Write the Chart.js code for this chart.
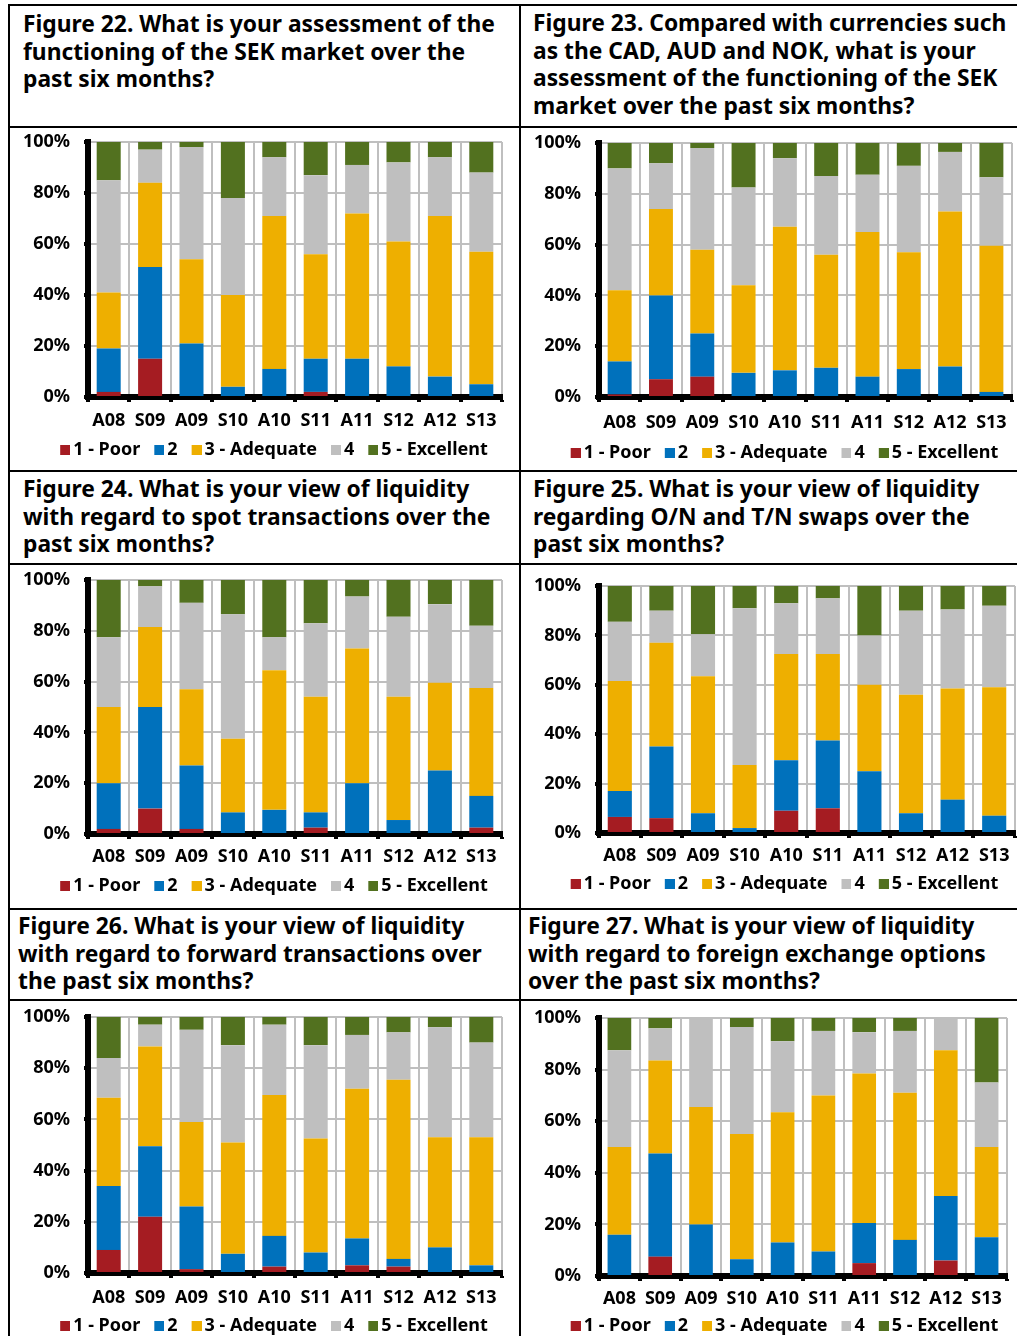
<!DOCTYPE html>
<html>
<head>
<meta charset="utf-8">
<script src="https://cdn.jsdelivr.net/npm/chart.js@4.4.1/dist/chart.umd.min.js"></script>
<style>
  html, body { margin: 0; padding: 0; background: #fff; overflow: hidden; width: 1017px; height: 1336px; }
  .rule { position: absolute; background: #000; }
  .title { position: absolute; font-family: "Noto Sans", sans-serif; font-weight: 700; font-size: 22.8px;
           line-height: 27.5px; white-space: nowrap; color: #000; }
  .box { position: absolute; }
</style>
</head>
<body>
<script>
// Survey periods on the x axis
const categories = ['A08', 'S09', 'A09', 'S10', 'A10', 'S11', 'A11', 'S12', 'A12', 'S13'];
// Answer scale (legend entries) and their colours
const seriesNames = ['1 - Poor', '2', '3 - Adequate', '4', '5 - Excellent'];
const seriesColors = ['#A51C22', '#0071BC', '#EEAF00', '#BFBFBF', '#52711F'];
// Percent axis
const yTickStep = 20;
const yMax = 100;

// Figure 22: functioning of the SEK market
const fig22Poor      = [2, 15, 0, 0, 0, 2, 0, 0, 0, 0];
const fig22Two       = [17, 36, 21, 4, 11, 13, 15, 12, 8, 5];
const fig22Adequate  = [22, 33, 33, 36, 60, 41, 57, 49, 63, 52];
const fig22Four      = [44, 13, 44, 38, 23, 31, 19, 31, 23, 31];
const fig22Excellent = [15, 3, 2, 22, 6, 13, 9, 8, 6, 12];

// Figure 23: SEK compared with CAD, AUD and NOK
const fig23Poor      = [1, 7, 8, 0, 0, 0, 0, 0, 0, 0];
const fig23Two       = [13, 33, 17, 9.5, 10.5, 11.5, 8, 11, 12, 2];
const fig23Adequate  = [28, 34, 33, 34.5, 56.5, 44.5, 57, 46, 61, 57.5];
const fig23Four      = [48, 18, 40, 38.5, 27, 31, 22.5, 34, 23.5, 27];
const fig23Excellent = [10, 8, 2, 17.5, 6, 13, 12.5, 9, 3.5, 13.5];

// Figure 24: liquidity, spot transactions
const fig24Poor      = [2, 10, 2, 0, 0, 2.5, 0, 0, 0, 2.5];
const fig24Two       = [18, 40, 25, 8.5, 9.5, 6, 20, 5.5, 25, 12.5];
const fig24Adequate  = [30, 31.5, 30, 29, 55, 45.5, 53, 48.5, 34.5, 42.5];
const fig24Four      = [27.5, 16, 34, 49, 13, 29, 20.5, 31.5, 31, 24.5];
const fig24Excellent = [22.5, 2.5, 9, 13.5, 22.5, 17, 6.5, 14.5, 9.5, 18];

// Figure 25: liquidity, O/N and T/N swaps
const fig25Poor      = [6.5, 6, 0, 0, 9, 10, 0, 0, 0, 0];
const fig25Two       = [10.5, 29, 8, 2, 20.5, 27.5, 25, 8, 13.5, 7];
const fig25Adequate  = [44.5, 42, 55.5, 25.5, 43, 35, 35, 48, 45, 52];
const fig25Four      = [24, 13, 17, 63.5, 20.5, 22.5, 20, 34, 32, 33];
const fig25Excellent = [14.5, 10, 19.5, 9, 7, 5, 20, 10, 9.5, 8];

// Figure 26: liquidity, forward transactions
const fig26Poor      = [9, 22, 1.5, 0, 2.5, 0, 3, 2.5, 0, 0];
const fig26Two       = [25, 27.5, 24.5, 7.5, 12, 8, 10.5, 3, 10, 3];
const fig26Adequate  = [34.5, 39, 33, 43.5, 55, 44.5, 58.5, 70, 43, 50];
const fig26Four      = [15.5, 8.5, 36, 38, 27.5, 36.5, 21, 18.5, 43, 37];
const fig26Excellent = [16, 3, 5, 11, 3, 11, 7, 6, 4, 10];

// Figure 27: liquidity, foreign exchange options
const fig27Poor      = [0, 7.5, 0, 0, 0, 0, 5, 0, 6, 0];
const fig27Two       = [16, 40, 20, 6.5, 13, 9.5, 15.5, 14, 25, 15];
const fig27Adequate  = [34, 36, 45.5, 48.5, 50.5, 60.5, 58, 57, 56.5, 35];
const fig27Four      = [37.5, 12.5, 34.5, 41.5, 27.5, 25, 16, 24, 12.5, 25];
const fig27Excellent = [12.5, 4, 0, 3.5, 9, 5, 5.5, 5, 0, 25];

const titles = [
  ['Figure 22. What is your assessment of the', 'functioning of the SEK market over the', 'past six months?'],
  ['Figure 23. Compared with currencies such', 'as the CAD, AUD and NOK, what is your', 'assessment of the functioning of the SEK', 'market over the past six months?'],
  ['Figure 24. What is your view of liquidity', 'with regard to spot transactions over the', 'past six months?'],
  ['Figure 25. What is your view of liquidity', 'regarding O/N and T/N swaps over the', 'past six months?'],
  ['Figure 26. What is your view of liquidity', 'with regard to forward transactions over', 'the past six months?'],
  ['Figure 27. What is your view of liquidity', 'with regard to foreign exchange options', 'over the past six months?']
];

const figureSeries = [
  [fig22Poor, fig22Two, fig22Adequate, fig22Four, fig22Excellent],
  [fig23Poor, fig23Two, fig23Adequate, fig23Four, fig23Excellent],
  [fig24Poor, fig24Two, fig24Adequate, fig24Four, fig24Excellent],
  [fig25Poor, fig25Two, fig25Adequate, fig25Four, fig25Excellent],
  [fig26Poor, fig26Two, fig26Adequate, fig26Four, fig26Excellent],
  [fig27Poor, fig27Two, fig27Adequate, fig27Four, fig27Excellent]
];

// Page layout (pixels): panel frames, title blocks and chart boxes
const hRules = [4, 126, 470, 563, 908, 999];
const vRules = [8, 519];
const titlePos = [[23, 10], [533, 9], [23, 475], [533, 475], [18, 912], [528, 912]];
const chartBoxes = [
  {cL: 10,  cR: 519,  cT: 128,  cB: 474,  pL: 88,  pR: 502,  pT: 142,  pB: 397,  lx: 271,   ly: 450,  xy: 421},
  {cL: 521, cR: 1017, cT: 128,  cB: 474,  pL: 599, pR: 1014, pT: 143,  pB: 397,  lx: 781.5, ly: 453,  xy: 423},
  {cL: 10,  cR: 519,  cT: 565,  cB: 910,  pL: 88,  pR: 502,  pT: 580,  pB: 834,  lx: 271,   ly: 886,  xy: 857},
  {cL: 521, cR: 1017, cT: 565,  cB: 910,  pL: 599, pR: 1015, pT: 586,  pB: 833,  lx: 781.5, ly: 884,  xy: 856},
  {cL: 10,  cR: 519,  cT: 1001, cB: 1346, pL: 88,  pR: 502,  pT: 1017, pB: 1273, lx: 271,   ly: 1326, xy: 1298},
  {cL: 521, cR: 1017, cT: 1001, cB: 1346, pL: 599, pR: 1007, pT: 1018, pB: 1276, lx: 781.5, ly: 1326, xy: 1299}
];

const FONT = '"Noto Sans", sans-serif';
const LEGEND_FONT = 18, LEGEND_PAD = 8, SWATCH = 10;
const LEGEND_H = LEGEND_FONT + LEGEND_PAD + 10;
const X_TICK_LEN = 5;
const Y_TICK_LEN = 4, Y_TICK_PAD = 14;

Chart.defaults.font.family = FONT;
Chart.defaults.color = '#000';

// Legend swatches: a square sitting at the right end of a wider transparent tile,
// so the square ends up close to its label text.
const swatches = seriesColors.map(col => {
  const c = document.createElement('canvas');
  c.width = SWATCH * 2 + 2;
  c.height = SWATCH;
  const cx = c.getContext('2d');
  cx.fillStyle = col;
  cx.fillRect(c.width - SWATCH, 0, SWATCH, SWATCH);
  return c;
});

// Moves the legend row so that it is centred on a given canvas x position
const legendCentre = {
  id: 'legendCentre',
  afterLayout(chart, args, opts) {
    const lg = chart.legend;
    if (!lg || opts.x == null) return;
    const dx = opts.x - (lg.left + lg.right) / 2;
    lg.left += dx;
    lg.right += dx;
  }
};

// frame rules
hRules.forEach(y => {
  const d = document.createElement('div');
  d.className = 'rule';
  Object.assign(d.style, {left: '8px', top: y + 'px', width: '1009px', height: '2px'});
  document.body.appendChild(d);
});
vRules.forEach(x => {
  const d = document.createElement('div');
  d.className = 'rule';
  Object.assign(d.style, {left: x + 'px', top: '4px', width: '2px', height: '1332px'});
  document.body.appendChild(d);
});

// titles
titles.forEach((lines, i) => {
  const d = document.createElement('div');
  d.className = 'title';
  d.style.left = titlePos[i][0] + 'px';
  d.style.top = titlePos[i][1] + 'px';
  lines.forEach((t, k) => {
    if (k) d.appendChild(document.createElement('br'));
    d.appendChild(document.createTextNode(t));
  });
  document.body.appendChild(d);
});

// charts
figureSeries.forEach((series, i) => {
  const g = chartBoxes[i];
  const holder = document.createElement('div');
  holder.className = 'box';
  Object.assign(holder.style, {
    left: g.cL + 'px', top: g.cT + 'px',
    width: (g.cR - g.cL) + 'px', height: (g.cB - g.cT) + 'px'
  });
  const canvas = document.createElement('canvas');
  holder.appendChild(canvas);
  document.body.appendChild(holder);

  const padRight = g.cR - g.pR;
  const yWidth = g.pL - g.cL;
  const padTop = g.pT - g.cT;
  const legendTop = g.ly - (LEGEND_PAD + LEGEND_FONT / 2);
  const xHeight = legendTop - g.pB;
  const padBottom = g.cB - legendTop - LEGEND_H;
  const xPad = g.xy - g.pB - X_TICK_LEN - LEGEND_FONT * 1.2 / 2;

  new Chart(canvas, {
    type: 'bar',
    data: {
      labels: categories,
      datasets: series.map((vals, k) => ({
        label: seriesNames[k],
        data: vals,
        backgroundColor: seriesColors[k],
        borderWidth: 0,
        barPercentage: 0.58,
        categoryPercentage: 1.0
      }))
    },
    plugins: [legendCentre],
    options: {
      responsive: true,
      maintainAspectRatio: false,
      animation: false,
      events: [],
      layout: { padding: { left: 0, right: padRight, top: padTop, bottom: padBottom } },
      plugins: {
        tooltip: { enabled: false },
        legendCentre: { x: g.lx - g.cL },
        legend: {
          position: 'bottom',
          labels: {
            usePointStyle: true,
            boxWidth: SWATCH, boxHeight: SWATCH, padding: LEGEND_PAD, color: '#000',
            font: { family: FONT, size: LEGEND_FONT, weight: 'bold' },
            generateLabels: chart =>
              Chart.defaults.plugins.legend.labels.generateLabels(chart)
                .map((item, k) => Object.assign(item, { pointStyle: swatches[k] }))
          }
        }
      },
      scales: {
        x: {
          stacked: true,
          z: 1,
          grid: {
            offset: true,
            color: c => (c.index === 0 ? 'rgba(0,0,0,0)' : '#BFBFBF'),
            lineWidth: 2,
            tickColor: '#000', tickWidth: 4, tickLength: X_TICK_LEN
          },
          border: { color: '#000', width: 6 },
          ticks: {
            padding: xPad, maxRotation: 0, autoSkip: false, color: '#000',
            font: { family: FONT, size: 18, weight: 'bold' }
          },
          afterFit: s => { s.height = xHeight; }
        },
        y: {
          stacked: true,
          min: 0, max: yMax,
          grid: { color: '#BFBFBF', lineWidth: 2, tickColor: '#000', tickWidth: 4, tickLength: Y_TICK_LEN },
          border: { color: '#000', width: 6 },
          ticks: {
            stepSize: yTickStep, padding: Y_TICK_PAD, color: '#000',
            font: { family: FONT, size: 18, weight: 'bold' },
            callback: v => v + '%'
          },
          afterFit: s => {
            s.width = yWidth;
            // only half a label height is needed above and below the axis
            s.paddingTop = 11;
            s.paddingBottom = 11;
          }
        }
      }
    }
  });
});
</script>
</body>
</html>
